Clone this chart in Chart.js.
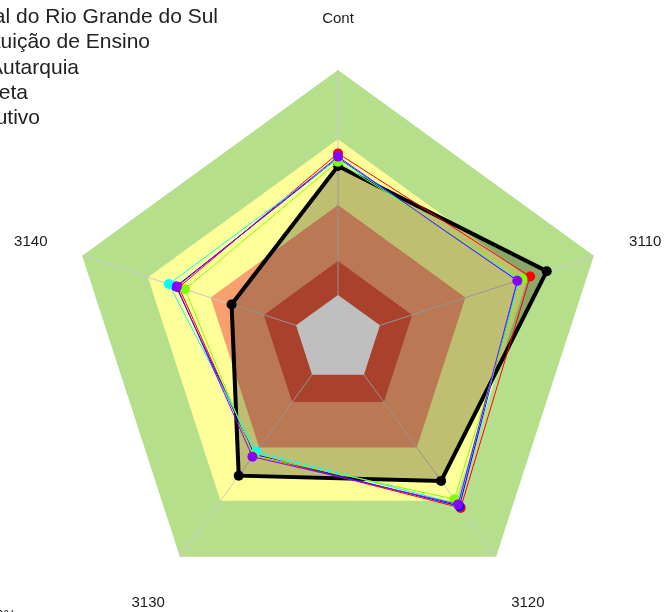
<!DOCTYPE html>
<html><head><meta charset="utf-8">
<script src="https://cdn.jsdelivr.net/npm/chart.js@4.4.0/dist/chart.umd.min.js"></script>
<style>html,body{margin:0;padding:0;background:#fff;overflow:hidden}</style>
</head><body>
<canvas id="c" width="664" height="612"></canvas>
<script>
// ---- data ----
const categories = ['Cont', '3110', '3120', '3130', '3140'];
const seriesNames = [
  'Unidade Avaliada',
  'Universidade Federal do Rio Grande do Sul',
  'Instituição de Ensino',
  'Autarquia',
  'Administração Indireta',
  'Poder Executivo'
];
const unidade   = [64.3, 81.6, 65.2, 62.8, 41.6];
const ufrgs     = [69.0, 75.1, 77.6, 53.2, 62.2];
const instEns   = [67.3, 70.3, 76.8, 53.0, 63.3];
const autarquia = [67.0, 70.6, 75.8, 51.8, 66.1];
const admInd    = [65.9, 72.1, 73.6, 53.5, 59.8];
const podExec   = [67.8, 70.1, 76.0, 54.1, 63.0];
const bandLimits = [16.4, 29.0, 49.8, 74.3, 100];
const footNote = '100%';

// ---- styles ----
const bandColors = ['#ffffff', '#e2573c', '#f9a070', '#ffff99', '#b6df8c'];
const seriesColors = ['#000000', '#ff0000', '#0000ff', '#00ffff', '#80ff00', '#8800ff'];
const seriesValues = [unidade, ufrgs, instEns, autarquia, admInd, podExec];
const drawOrder = [10, 5, 4, 3, 2, 0];
const legendEnds = [60, 218, 150, 79, 28, 40];
const legendBase0 = -2.3, legendStep = 25.3;
const FONT = '"Liberation Sans", Arial, sans-serif';

function polygon(ctx, scale, value) {
  const n = categories.length;
  const d = scale.getDistanceFromCenterForValue(value);
  ctx.beginPath();
  for (let i = 0; i < n; i++) {
    const p = scale.getPointPosition(i, d);
    if (i === 0) ctx.moveTo(p.x, p.y); else ctx.lineTo(p.x, p.y);
  }
  ctx.closePath();
}

const bandsPlugin = {
  id: 'bands',
  beforeDraw(chart) {
    const ctx = chart.ctx, s = chart.scales.r;
    ctx.save();
    for (let b = bandLimits.length - 1; b >= 1; b--) {
      polygon(ctx, s, bandLimits[b]);
      ctx.fillStyle = bandColors[b];
      ctx.fill();
    }
    ctx.restore();
  },
  beforeDatasetsDraw(chart) {
    const ctx = chart.ctx, s = chart.scales.r;
    ctx.save();
    polygon(ctx, s, bandLimits[0]);
    ctx.fillStyle = bandColors[0];
    ctx.fill();
    ctx.restore();
  },
  afterDraw(chart) {
    const ctx = chart.ctx, s = chart.scales.r;
    ctx.save();
    // axis labels
    ctx.font = '15px ' + FONT;
    ctx.fillStyle = '#1a1a1a';
    ctx.textAlign = 'center';
    ctx.textBaseline = 'middle';
    categories.forEach((c, i) => {
      const p = s.getPointPosition(i, s.drawingArea + 54);
      ctx.fillText(c, p.x, p.y + 3);
    });
    // legend (partly outside the canvas)
    ctx.font = '21px ' + FONT;
    ctx.textAlign = 'left';
    ctx.textBaseline = 'alphabetic';
    ctx.fillStyle = '#222';
    seriesNames.forEach((t, i) => {
      const w = ctx.measureText(t).width;
      ctx.fillText(t, legendEnds[i] - w, legendBase0 + i * legendStep);
    });
    // footnote, cut at bottom-left
    ctx.font = '14px ' + FONT;
    ctx.textAlign = 'right';
    ctx.fillText(footNote, 16, 620);
    ctx.restore();
  }
};

const datasets = seriesNames.map((name, i) => ({
  label: name,
  data: seriesValues[i],
  borderColor: seriesColors[i],
  backgroundColor: i === 0 ? 'rgba(0,0,0,0.25)' : 'transparent',
  fill: i === 0,
  borderWidth: i === 0 ? 4 : 1,
  pointRadius: 5,
  pointBorderWidth: 0,
  pointBackgroundColor: seriesColors[i],
  pointHoverRadius: 5,
  tension: 0,
  order: drawOrder[i]
}));

new Chart(document.getElementById('c'), {
  type: 'radar',
  data: { labels: categories, datasets },
  options: {
    responsive: false,
    devicePixelRatio: 1,
    animation: false,
    layout: { padding: { left: 69, right: 57, top: 70, bottom: 4 } },
    plugins: { legend: { display: false }, tooltip: { enabled: false } },
    scales: {
      r: {
        min: 0, max: 100,
        ticks: { display: false },
        grid: { display: false },
        angleLines: { display: true, color: '#c8c8c8', lineWidth: 1 },
        pointLabels: { display: false }
      }
    }
  },
  plugins: [bandsPlugin]
});
</script>
</body></html>
